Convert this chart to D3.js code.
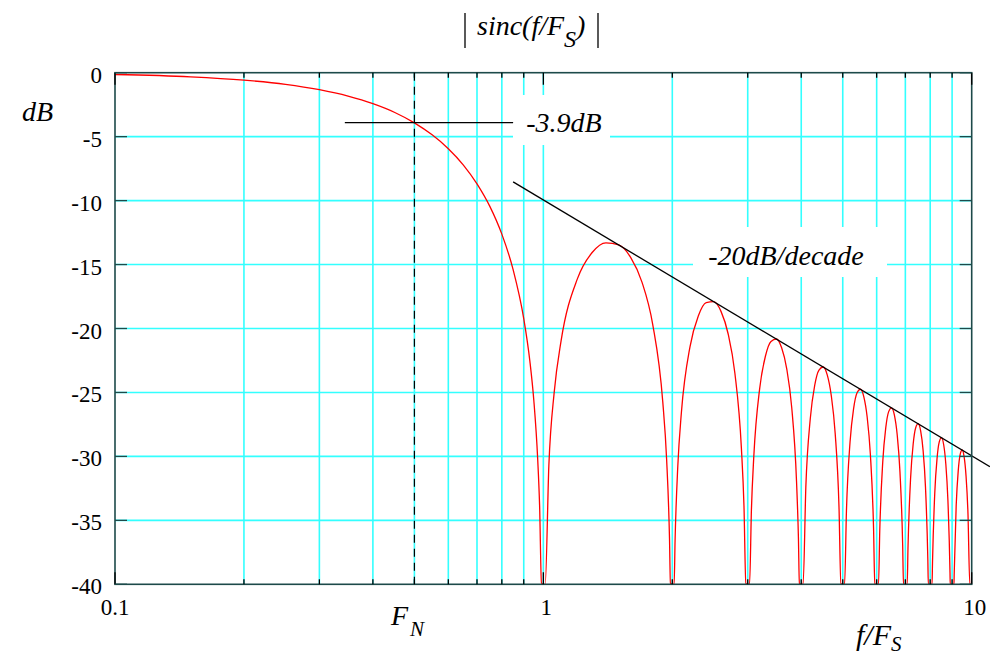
<!DOCTYPE html>
<html>
<head>
<meta charset="utf-8">
<script src="https://cdn.jsdelivr.net/npm/d3@7"></script>
<style>
  html, body { margin: 0; padding: 0; background: #fff; }
  svg { display: block; font-family: "Liberation Serif", "Times New Roman", serif; }
</style>
</head>
<body>
<svg id="chart" width="990" height="658"></svg>
<script>
// |sinc(f/Fs)| in dB, floored at -40 dB
const sincFreq = [
  0.1, 0.15, 0.2, 0.25, 0.3, 0.35, 0.4, 0.45, 0.5, 0.55, 0.6, 0.65, 0.7, 0.75, 0.8, 0.85, 0.9, 0.93, 0.95, 0.97, 0.98, 0.99, 1.0,
  1.01, 1.03, 1.06, 1.1, 1.2, 1.3, 1.4, 1.5, 1.6, 1.7, 1.8, 1.9, 1.94, 1.97, 1.98, 2.0,
  2.02, 2.03, 2.06, 2.1, 2.2, 2.3, 2.4, 2.5, 2.6, 2.7, 2.8, 2.9, 2.94, 2.97, 3.0,
  3.03, 3.06, 3.1, 3.2, 3.3, 3.4, 3.5, 3.6, 3.7, 3.8, 3.9, 3.94, 3.96, 4.0,
  4.04, 4.1, 4.2, 4.3, 4.4, 4.5, 4.6, 4.7, 4.8, 4.9, 4.95, 5.0,
  5.05, 5.1, 5.2, 5.3, 5.4, 5.5, 5.6, 5.7, 5.8, 5.9, 5.94, 6.0,
  6.06, 6.1, 6.2, 6.3, 6.4, 6.5, 6.6, 6.7, 6.8, 6.9, 6.93, 7.0,
  7.07, 7.1, 7.2, 7.3, 7.4, 7.5, 7.6, 7.7, 7.8, 7.9, 7.92, 8.0,
  8.08, 8.1, 8.2, 8.3, 8.4, 8.5, 8.6, 8.7, 8.8, 8.9, 8.91, 9.0,
  9.09, 9.1, 9.2, 9.3, 9.4, 9.5, 9.6, 9.7, 9.8, 9.9, 10.0
];
const sincDb = [
  -0.14, -0.32, -0.58, -0.91, -1.33, -1.83, -2.42, -3.11, -3.92, -4.86, -5.94, -7.20, -8.69, -10.45, -12.62, -15.39, -19.23, -22.54, -25.61, -30.21, -33.81, -39.91, -40,
  -40, -30.73, -24.99, -20.97, -16.14, -14.06, -13.30, -13.47, -14.46, -16.39, -19.67, -25.72, -30.24, -36.36, -39.92, -40,
  -40, -36.62, -30.77, -26.59, -21.41, -19.02, -17.98, -17.90, -18.68, -20.41, -23.50, -29.39, -33.86, -39.93, -40,
  -40, -34.20, -29.97, -24.66, -22.15, -21.01, -20.82, -21.51, -23.15, -26.16, -31.96, -36.40, -39.94, -40,
  -40, -32.40, -27.02, -24.45, -23.25, -23.01, -23.63, -25.23, -28.18, -33.95, -39.95, -40,
  -40, -34.29, -28.88, -26.27, -25.03, -24.75, -25.34, -26.90, -29.83, -35.56, -39.96, -40,
  -40, -35.85, -30.41, -27.77, -26.50, -26.20, -26.77, -28.31, -31.21, -36.92, -39.98, -40,
  -40, -37.17, -31.71, -29.05, -27.76, -27.44, -28.00, -29.51, -32.40, -38.10, -40, -40,
  -40, -38.31, -32.84, -30.17, -28.87, -28.53, -29.07, -30.57, -33.45, -39.13, -40, -40,
  -40, -39.32, -33.84, -31.15, -29.84, -29.50, -30.02, -31.52, -34.38, -40, -40
];

// side-lobe envelope, -20 dB per decade
const envelopeFreq = [0.85, 11.03];
const envelopeDb = [-8.54, -30.8];

// half-power marker at the Nyquist frequency
const nyquistFreq = 0.5;
const markerDb = -3.9;
const markerFreq = [0.344, 0.85];

const xTickValues = [0.1, 1, 10];
const xTickLabels = ["0.1", "1", "10"];
const xGridValues = [0.2, 0.3, 0.4, 0.5, 0.6, 0.7, 0.8, 0.9, 1, 2, 3, 4, 5, 6, 7, 8, 9];
const yTickValues = [0, -5, -10, -15, -20, -25, -30, -35, -40];
const yTickLabels = ["0", "-5", "-10", "-15", "-20", "-25", "-30", "-35", "-40"];

const svg = d3.select("#chart");
const plotLeft = 115, plotRight = 971.7, plotTop = 72.7, plotBottom = 584.3;

const x = d3.scaleLog().domain([0.1, 10]).range([plotLeft, plotRight]);
const y = d3.scaleLinear().domain([-40, 0]).range([plotBottom, plotTop]);

const gridColor = "#33ffff";
const frameColor = "#1d4a4a";

// grid
const grid = svg.append("g");
grid.selectAll(null).data(xGridValues).join("line")
  .attr("x1", d => x(d)).attr("x2", d => x(d))
  .attr("y1", plotTop).attr("y2", plotBottom)
  .attr("stroke", gridColor).attr("stroke-width", 1.6);
grid.selectAll(null).data(yTickValues.filter(v => v > -40 && v < 0)).join("line")
  .attr("x1", plotLeft).attr("x2", plotRight)
  .attr("y1", d => y(d)).attr("y2", d => y(d))
  .attr("stroke", gridColor).attr("stroke-width", 1.6);

// white label panels
const panels = svg.append("g");
panels.append("rect").attr("x", 513).attr("y", 95).attr("width", 97).attr("height", 50).attr("fill", "#fff");
panels.append("rect").attr("x", 693).attr("y", 227).attr("width", 194).attr("height", 50).attr("fill", "#fff");

// Nyquist dashed line
svg.append("line")
  .attr("x1", x(nyquistFreq)).attr("x2", x(nyquistFreq))
  .attr("y1", plotTop).attr("y2", plotBottom)
  .attr("stroke", "#000").attr("stroke-width", 1.2)
  .attr("stroke-dasharray", "8,6");

// clip for the response curve
svg.append("clipPath").attr("id", "plotClip")
  .append("rect").attr("x", plotLeft).attr("y", plotTop)
  .attr("width", plotRight - plotLeft).attr("height", plotBottom - plotTop);

const curvePts = sincFreq.map((f, i) => [f, sincDb[i]]);
const line = d3.line().x(d => x(d[0])).y(d => y(d[1])).curve(d3.curveMonotoneX);

svg.append("path")
  .attr("d", line(curvePts))
  .attr("fill", "none").attr("stroke", "#ff0000").attr("stroke-width", 1.3)
  .attr("clip-path", "url(#plotClip)");

// -3.9 dB marker line
svg.append("line")
  .attr("x1", x(markerFreq[0])).attr("x2", x(markerFreq[1]))
  .attr("y1", y(markerDb)).attr("y2", y(markerDb))
  .attr("stroke", "#000").attr("stroke-width", 1.2);

// envelope line
svg.append("line")
  .attr("x1", x(envelopeFreq[0])).attr("x2", x(envelopeFreq[1]))
  .attr("y1", y(envelopeDb[0])).attr("y2", y(envelopeDb[1]))
  .attr("stroke", "#000").attr("stroke-width", 1.3);

// frame
svg.append("rect")
  .attr("x", plotLeft).attr("y", plotTop)
  .attr("width", plotRight - plotLeft).attr("height", plotBottom - plotTop)
  .attr("fill", "none").attr("stroke", frameColor).attr("stroke-width", 1.6);

// inward ticks on all four sides
const minorX = xGridValues.filter(v => v !== 1);
const tickG = svg.append("g").attr("stroke", "#000").attr("stroke-width", 1.3);
function xTicks(vals, len) {
  tickG.selectAll(null).data(vals).join("line")
    .attr("x1", d => x(d)).attr("x2", d => x(d))
    .attr("y1", plotBottom).attr("y2", plotBottom - len);
  tickG.selectAll(null).data(vals).join("line")
    .attr("x1", d => x(d)).attr("x2", d => x(d))
    .attr("y1", plotTop).attr("y2", plotTop + len);
}
xTicks(minorX, 5);
xTicks(xTickValues, 12);
tickG.selectAll(null).data(yTickValues).join("line")
  .attr("x1", plotLeft).attr("x2", plotLeft + 12)
  .attr("y1", d => y(d)).attr("y2", d => y(d)).attr("stroke", frameColor);
tickG.selectAll(null).data(yTickValues).join("line")
  .attr("x1", plotRight).attr("x2", plotRight - 12)
  .attr("y1", d => y(d)).attr("y2", d => y(d)).attr("stroke", frameColor);

// tick labels
svg.append("g").selectAll("text").data(yTickValues).join("text")
  .attr("x", 102).attr("y", d => y(d) + 10)
  .attr("text-anchor", "end").attr("font-size", 23)
  .text((d, i) => yTickLabels[i]);
svg.append("g").selectAll("text").data(xTickValues).join("text")
  .attr("x", d => x(d) + (d > 0.5 ? 3 : 0)).attr("y", 615)
  .attr("text-anchor", "middle").attr("font-size", 23)
  .text((d, i) => xTickLabels[i]);

// title with magnitude bars
svg.append("line").attr("x1", 465).attr("x2", 465).attr("y1", 13).attr("y2", 48).attr("stroke", "#000").attr("stroke-width", 1.3);
svg.append("line").attr("x1", 598).attr("x2", 598).attr("y1", 13).attr("y2", 48).attr("stroke", "#000").attr("stroke-width", 1.3);
const title = svg.append("text").attr("x", 477).attr("y", 35).attr("font-size", 28).attr("font-style", "italic");
title.append("tspan").text("sinc(f/F");
title.append("tspan").attr("dy", 12).attr("font-size", 24).text("S");
title.append("tspan").attr("dy", -12).text(")");

// axis names
svg.append("text").attr("x", 22).attr("y", 121).attr("font-size", 28).attr("font-style", "italic").text("dB");
const fn = svg.append("text").attr("x", 391).attr("y", 625).attr("font-size", 28).attr("font-style", "italic");
fn.append("tspan").text("F");
fn.append("tspan").attr("dx", 2).attr("dy", 11).attr("font-size", 21).text("N");
const fx = svg.append("text").attr("x", 856).attr("y", 645).attr("font-size", 30).attr("font-style", "italic");
fx.append("tspan").text("f/F");
fx.append("tspan").attr("dy", 6).attr("font-size", 21).text("S");

// annotations
svg.append("text").attr("x", 564).attr("y", 132).attr("text-anchor", "middle")
  .attr("font-size", 28).attr("font-style", "italic").text("-3.9dB");
svg.append("text").attr("x", 786).attr("y", 265).attr("text-anchor", "middle")
  .attr("font-size", 28).attr("font-style", "italic").text("-20dB/decade");
</script>
</body>
</html>
